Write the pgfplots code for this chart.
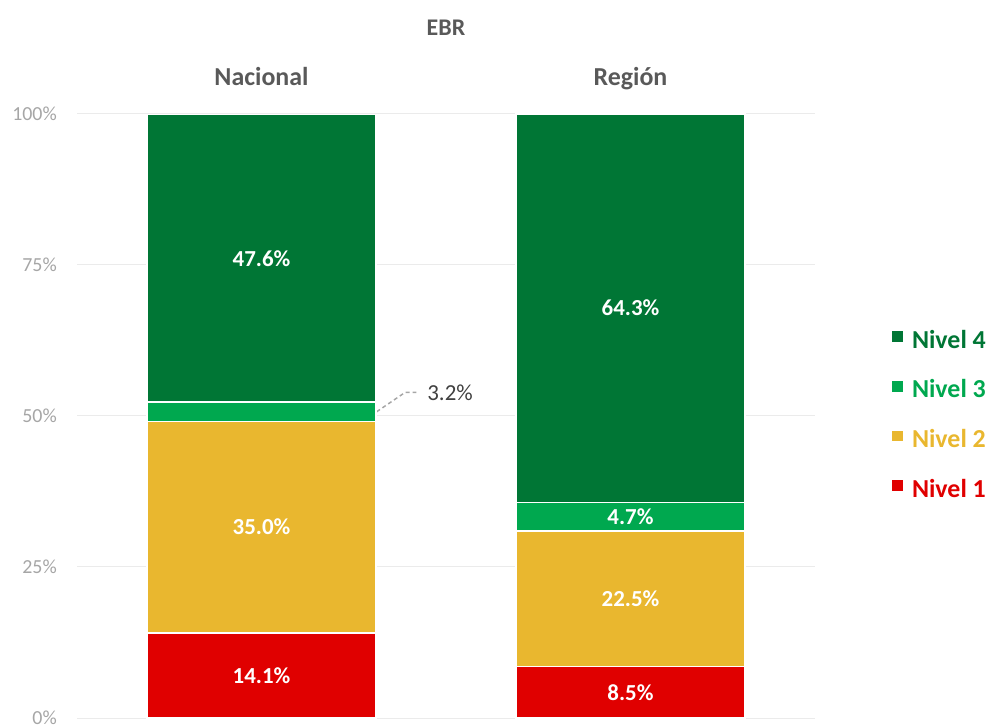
\documentclass[border=0pt]{standalone}
\usepackage{fontspec}
\setmainfont{Carlito}
\usepackage{pgfplots}
\pgfplotsset{compat=1.18}
\definecolor{nivelcuatro}{HTML}{007635}
\definecolor{niveltres}{HTML}{00A84F}
\definecolor{niveldos}{HTML}{E9B72F}
\definecolor{niveluno}{HTML}{E00000}
\definecolor{textgray}{HTML}{595959}
\definecolor{darkgray}{HTML}{404040}
\definecolor{tickgray}{HTML}{A6A6A6}
\definecolor{gridgray}{HTML}{EBEBEB}
\newcommand{\entry}[2]{\raisebox{6bp}{\textcolor{#1}{#2}}}
\begin{document}
\begin{tikzpicture}
\begin{axis}[
    at={(0,0)}, anchor=south west,
    scale only axis, width=738bp, height=604bp,
    ybar stacked, bar width=0.62,
    xmin=-0.5, xmax=1.5, ymin=0, ymax=100,
    xtick={0,1}, xticklabels={Nacional,Región},
    xticklabel pos=upper,
    xticklabel style={anchor=base, yshift=28bp, text=textgray,
        font=\bfseries\fontsize{26}{30}\selectfont},
    ytick={0,25,50,75,100},
    yticklabel={\pgfmathprintnumber{\tick}\%},
    /pgf/number format/assume math mode=true,
    yticklabel style={text=tickgray, font=\fontsize{20}{24}\selectfont,
        inner sep=0pt, xshift=-20bp},
    axis line style={draw=none},
    major tick length=0pt,
    ymajorgrids, grid style={gridgray, line width=1bp},
    title=EBR,
    title style={at={(0.5,1)}, anchor=base, yshift=73bp, text=textgray,
        font=\bfseries\fontsize{24}{28}\selectfont},
    clip=false,
    point meta=explicit symbolic,
    nodes near coords,
    every node near coord/.append style={anchor=center,
        text=white, font=\bfseries\fontsize{23}{27}\selectfont},
    reverse legend,
    legend cell align=left,
    legend image code/.code={\fill[#1] (0bp,0bp) rectangle (12bp,12bp);},
    legend style={at={(1.098,0.498)}, anchor=west, draw=none, fill=none,
        row sep=20bp, font=\bfseries\fontsize{26}{31}\selectfont,
        /tikz/every odd column/.append style={column sep=6bp}},
]
\addplot[fill=niveluno, draw=white, line width=1.5bp]
    coordinates {(0,14.1) [14.1\%] (1,8.5) [8.5\%]};
\addlegendentry{\entry{niveluno}{Nivel 1}}
\addplot[fill=niveldos, draw=white, line width=1.5bp]
    coordinates {(0,35.0) [35.0\%] (1,22.5) [22.5\%]};
\addlegendentry{\entry{niveldos}{Nivel 2}}
\addplot[fill=niveltres, draw=white, line width=1.5bp]
    coordinates {(0,3.2) [{}] (1,4.7) [4.7\%]};
\addlegendentry{\entry{niveltres}{Nivel 3}}
\addplot[fill=nivelcuatro, draw=white, line width=1.5bp]
    coordinates {(0,47.6) [47.6\%] (1,64.3) [64.3\%]};
\addlegendentry{\entry{nivelcuatro}{Nivel 4}}
% label of the thin Nivel 3 segment, outside with a leader line
\draw[tickgray, line width=1.5bp, dash pattern=on 4bp off 3bp]
    (axis cs:0.312,50.7) -- (axis cs:0.389,53.9) -- (axis cs:0.42,53.9);
\node[anchor=west, text=darkgray, font=\fontsize{23}{27}\selectfont]
    at (axis cs:0.44,53.9) {3.2\%};
\end{axis}
\pgfresetboundingbox
\path[use as bounding box] (-77bp,-7bp) rectangle (913bp,718bp);
\end{tikzpicture}
\end{document}
